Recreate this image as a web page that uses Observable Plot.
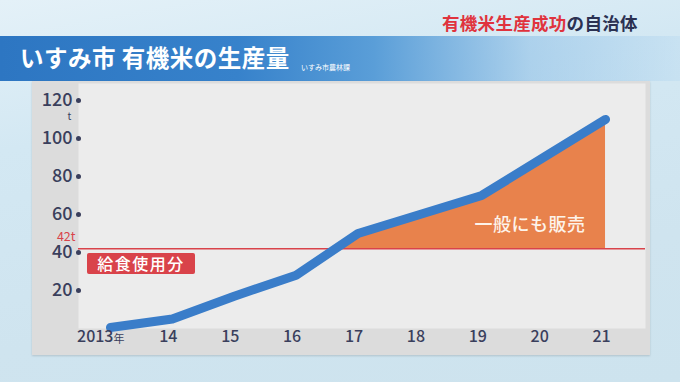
<!DOCTYPE html>
<html><head><meta charset="utf-8">
<script src="https://cdn.jsdelivr.net/npm/d3@7"></script>
<script src="https://cdn.jsdelivr.net/npm/@observablehq/plot@0.6"></script>
<style>
html,body{margin:0;padding:0;}
body{width:680px;height:382px;position:relative;overflow:hidden;font-family:"Noto Sans CJK JP","Noto Sans",sans-serif;
background:linear-gradient(170deg,#e4f1f8 0%,#d3e8f3 30%,#cfe4ef 70%,#cde3ee 100%);}
#band{position:absolute;left:0;top:36px;width:680px;height:45px;
background:linear-gradient(90deg,#2d76c2 0%,#3782cb 35%,#5a9ed8 55%,rgba(140,190,230,0.55) 78%,rgba(180,215,240,0.35) 100%);}
#title{position:absolute;left:20px;top:40px;color:#fff;font-size:23.5px;font-weight:700;letter-spacing:0.5px;white-space:nowrap;}
#src{position:absolute;left:301px;top:62px;color:#fff;font-size:7px;white-space:nowrap;}
#topic{position:absolute;left:442px;top:10px;font-size:17.5px;font-weight:700;white-space:nowrap;color:#2b3152;letter-spacing:0.3px;}
#topic span{color:#e0333d;}
#panel{position:absolute;left:32px;top:81px;width:618px;height:274px;background:#dcdcdc;box-shadow:0 1px 2px rgba(0,0,0,0.15);}
#box{position:absolute;left:87px;top:253px;width:108px;height:21px;background:#d9434a;border-radius:2px;color:#fff;font-size:16px;font-weight:500;line-height:21px;text-align:center;letter-spacing:1.5px;}
#sell{position:absolute;left:471px;top:211px;width:118px;text-align:center;color:#fdf3ea;font-size:18px;font-weight:500;letter-spacing:0.5px;line-height:24px;}
</style></head>
<body>
<div id="band"></div>
<div id="title">いすみ市 有機米の生産量</div>
<div id="src">いすみ市農林課</div>
<div id="topic"><span>有機米生産成功</span>の自治体</div>
<div id="panel"></div>
<div id="box">給食使用分</div>
<div id="sell">一般にも販売</div>
<script>
const years = [2013, 2014, 2015, 2016, 2017, 2018, 2019, 2020, 2021];
const values = [0.5, 5, 17, 28, 50, 60, 70, 90, 110];
const xLabels = ["2013", "14", "15", "16", "17", "18", "19", "20", "21"];
const yTicks = [20, 40, 60, 80, 100, 120];
const schoolLunch = 42;

const data = years.map((y, i) => ({year: y, v: values[i]}));
// area above the school-lunch line: starts where the line crosses 42
let areaData = [];
for (let i = 1; i < data.length; i++) {
  const a = data[i - 1], b = data[i];
  if (a.v < schoolLunch && b.v >= schoolLunch) {
    const t = (schoolLunch - a.v) / (b.v - a.v);
    areaData.push({year: a.year + t * (b.year - a.year), v: schoolLunch});
  }
  if (b.v >= schoolLunch) areaData.push(b);
}
const ink = "#3a3f5c";
const red = "#d9434a";
const chart = Plot.plot({
  width: 618, height: 274,
  marginLeft: 46, marginTop: 2, marginRight: 5, marginBottom: 27,
  x: {domain: [2012.483, 2021.646], axis: null},
  y: {domain: [0, 128.9], axis: null},
  style: {fontFamily: '"Noto Sans CJK JP","Noto Sans",sans-serif', background: "transparent", overflow: "visible"},
  marks: [
    Plot.frame({fill: "#ececec", stroke: null}),
    Plot.areaY(areaData, {x: "year", y1: schoolLunch, y2: "v", fill: "#e8824c"}),
    Plot.ruleY([schoolLunch], {stroke: red, strokeWidth: 1.5}),
    Plot.text([schoolLunch], {y: d => d, text: d => d + "t", frameAnchor: "left", textAnchor: "end", dx: -3, dy: -12, fill: red, fontSize: 12.5}),
    Plot.line(data, {x: "year", y: "v", stroke: "#3a7dc9", strokeWidth: 9, strokeLinecap: "round", strokeLinejoin: "round"}),
    Plot.dot(yTicks, {y: d => d, frameAnchor: "left", r: 2.5, fill: ink}),
    Plot.text(yTicks, {y: d => d, text: d => String(d), frameAnchor: "left", textAnchor: "end", dx: -6, fill: ink, fontSize: 18, fontWeight: 500}),
    Plot.text([d3.max(yTicks)], {y: d => d, text: () => "t", frameAnchor: "left", dx: -11, dy: 16, fill: ink, fontSize: 10}),
    Plot.text(years.slice(1), {x: d => d, text: (d, i) => xLabels[i + 1], frameAnchor: "bottom", dy: 13, dx: -4, fill: ink, fontSize: 16, fontWeight: 500}),
    Plot.text([years[0]], {x: d => d, text: () => xLabels[0], frameAnchor: "bottom", textAnchor: "end", dy: 13, dx: 3, fill: ink, fontSize: 16, fontWeight: 500}),
    Plot.text([years[0]], {x: d => d, text: () => "年", frameAnchor: "bottom", textAnchor: "start", dy: 14, dx: 3, fill: ink, fontSize: 11})
  ]
});
chart.style.position = "absolute";
chart.style.left = "32px";
chart.style.top = "81px";
document.body.insertBefore(chart, document.getElementById("box"));
</script>
</body></html>
